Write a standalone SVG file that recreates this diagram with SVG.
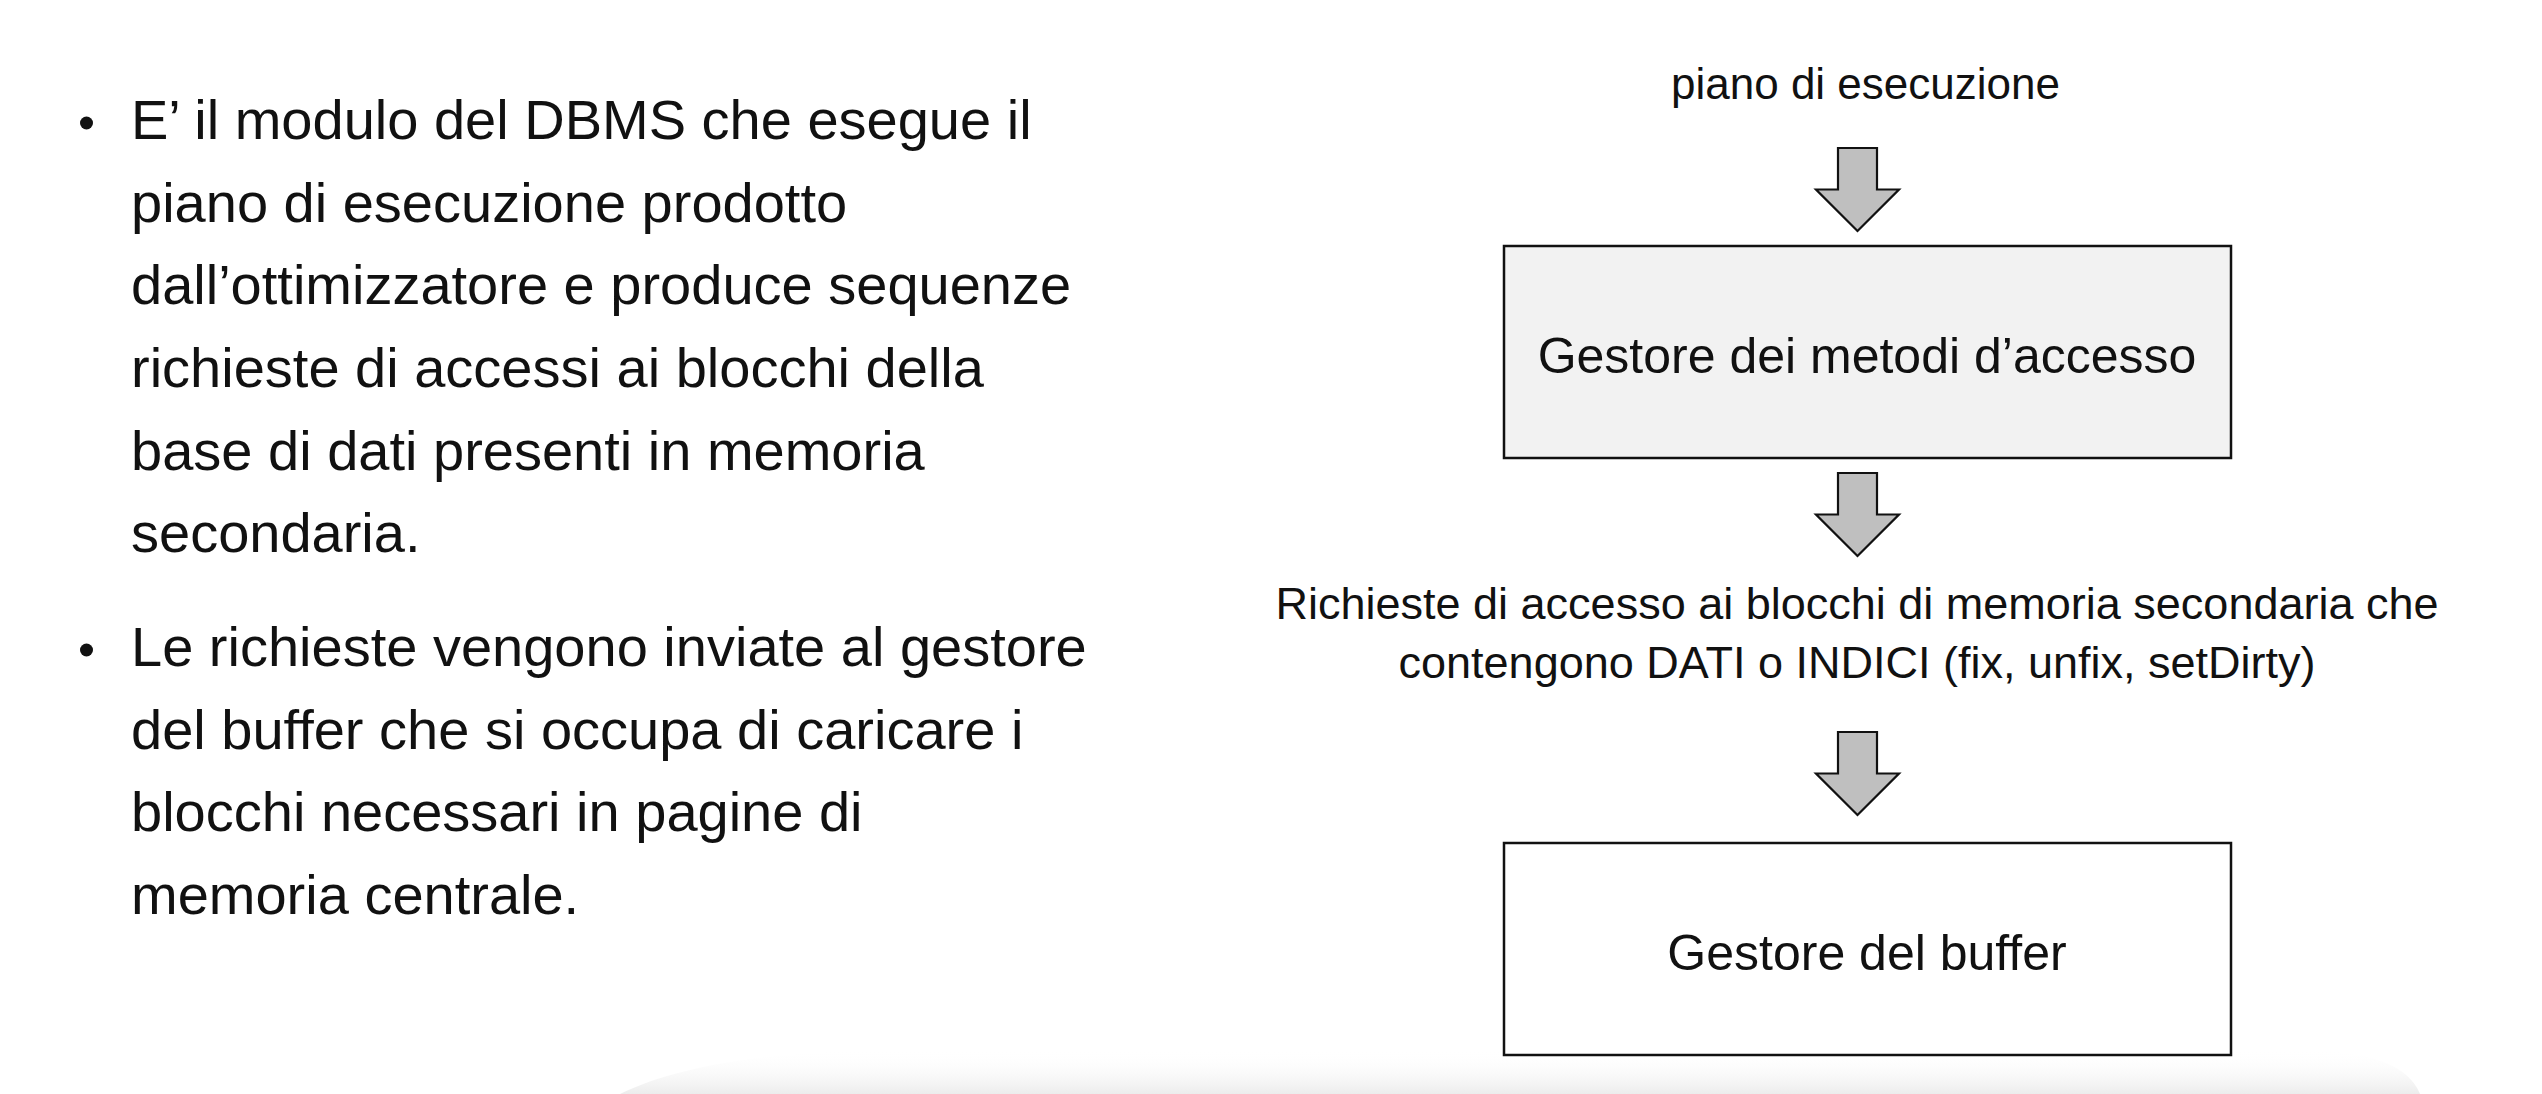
<svg xmlns="http://www.w3.org/2000/svg" width="2542" height="1094" viewBox="0 0 2542 1094">
  <style>
    text { font-family: "Liberation Sans", Arial, sans-serif; fill: #111; }
    .body { font-size: 56px; }
    .lbl { font-size: 44px; text-anchor: middle; }
    .mid { font-size: 45px; text-anchor: middle; }
    .box-t { font-size: 50px; text-anchor: middle; }
    .box { stroke: #111; stroke-width: 2.5; }
    .arrow { fill: #bfbfbf; stroke: #111; stroke-width: 2.2; stroke-linejoin: miter; }
    .bullet { fill: #111; }
  </style>
  <defs>
    <linearGradient id="shade" x1="0" y1="0" x2="0" y2="1">
      <stop offset="0" stop-color="#ffffff" stop-opacity="0"/>
      <stop offset="1" stop-color="#ececec"/>
    </linearGradient>
    <path id="arw" d="M -19.5 0 H 19.5 V 41.5 H 41.5 L 0 83 L -41.5 41.5 H -19.5 Z"/>
  </defs>
  <rect width="2542" height="1094" fill="#ffffff"/>
  <path d="M 620 1094 C 680 1064 780 1050 900 1050 L 2300 1050 C 2380 1050 2410 1070 2420 1094 Z" fill="url(#shade)"/>

  <g id="bullets">
    <circle class="bullet" cx="86.5" cy="123" r="6.5"/>
    <text class="body" x="131" y="139">E’ il modulo del DBMS che esegue il</text>
    <text class="body" x="131" y="222">piano di esecuzione prodotto</text>
    <text class="body" x="131" y="304">dall’ottimizzatore e produce sequenze</text>
    <text class="body" x="131" y="387">richieste di accessi ai blocchi della</text>
    <text class="body" x="131" y="470">base di dati presenti in memoria</text>
    <text class="body" x="131" y="552">secondaria.</text>
    <circle class="bullet" cx="86.5" cy="650" r="6.5"/>
    <text class="body" x="131" y="666">Le richieste vengono inviate al gestore</text>
    <text class="body" x="131" y="749">del buffer che si occupa di caricare i</text>
    <text class="body" x="131" y="831">blocchi necessari in pagine di</text>
    <text class="body" x="131" y="914">memoria centrale.</text>
  </g>

  <g id="node-piano">
    <text class="lbl" x="1865.5" y="99">piano di esecuzione</text>
  </g>

  <g id="node-gestore-metodi">
    <rect class="box" x="1504" y="246" width="727" height="212" fill="#f2f2f2"/>
    <text class="box-t" x="1867" y="373">Gestore dei metodi d’accesso</text>
  </g>

  <g id="node-richieste">
    <text class="mid" x="1857" y="619">Richieste di accesso ai blocchi di memoria secondaria che</text>
    <text class="mid" x="1857" y="678">contengono DATI o INDICI (fix, unfix, setDirty)</text>
  </g>

  <g id="node-gestore-buffer">
    <rect class="box" x="1504" y="843" width="727" height="212" fill="#ffffff"/>
    <text class="box-t" x="1867" y="970">Gestore del buffer</text>
  </g>

  <g id="connectors">
    <use href="#arw" class="arrow" x="1857.5" y="148"/>
    <use href="#arw" class="arrow" x="1857.5" y="473"/>
    <use href="#arw" class="arrow" x="1857.5" y="732"/>
  </g>
</svg>
